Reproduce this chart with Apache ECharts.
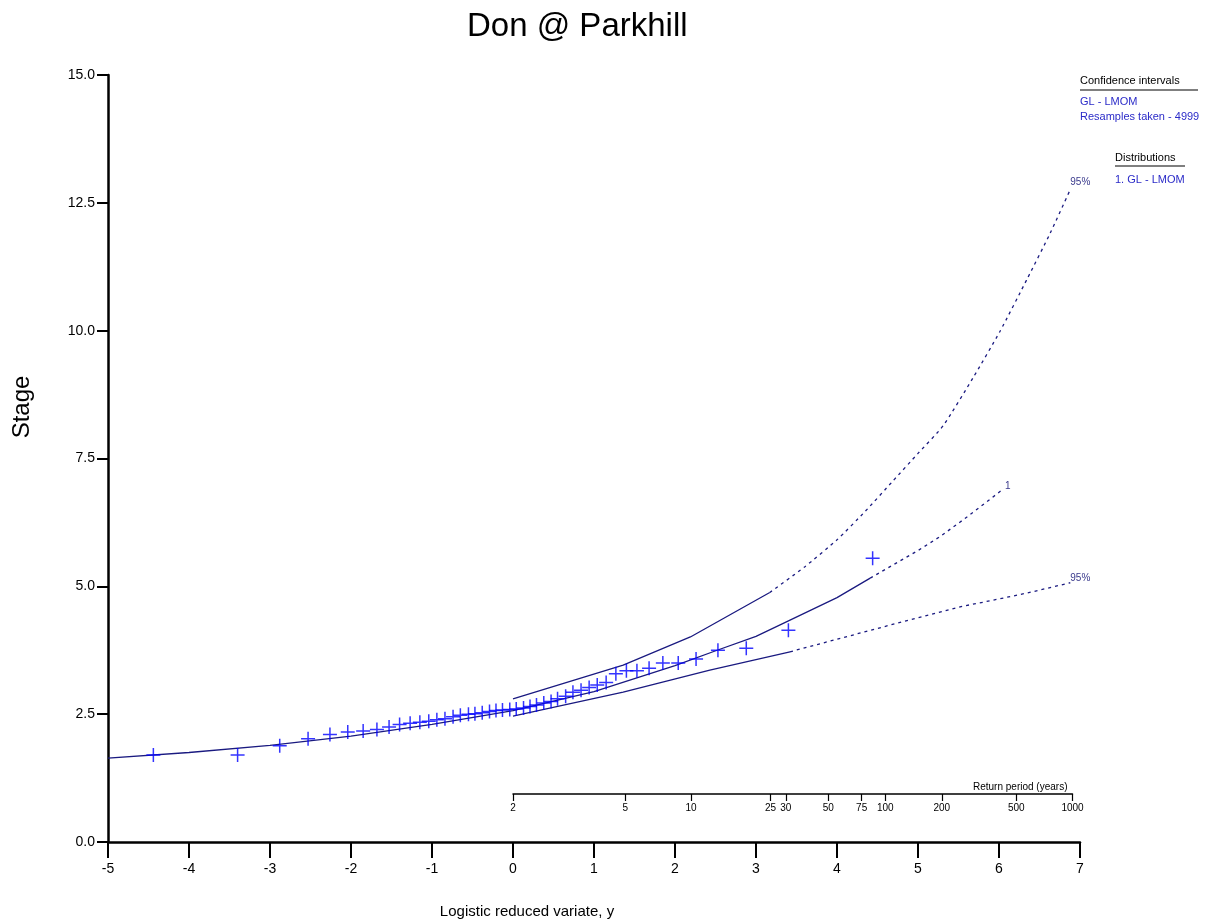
<!DOCTYPE html>
<html>
<head>
<meta charset="utf-8">
<script src="https://cdn.jsdelivr.net/npm/echarts@6/dist/echarts.min.js"></script>
<style>
html,body{margin:0;padding:0;background:#fff;overflow:hidden;}
#chart{width:1227px;height:921px;}
</style>
</head>
<body>
<div id="chart"></div>
<script>
// ---- Data ----
// Observed annual maxima: logistic reduced variate (plotting positions) and stage
const obsX = [-4.44,-3.40,-2.88,-2.53,-2.26,-2.04,-1.85,-1.68,-1.53,-1.40,-1.27,-1.15,-1.04,-0.94,-0.84,-0.74,
  -0.65,-0.55,-0.47,-0.38,-0.29,-0.21,-0.13,-0.04,0.04,0.13,0.21,0.29,0.38,0.47,0.55,0.65,
  0.74,0.84,0.94,1.04,1.15,1.27,1.40,1.53,1.68,1.85,2.04,2.26,2.53,2.88,3.40,4.44];
const obsY = [1.70,1.70,1.88,2.02,2.10,2.15,2.17,2.20,2.25,2.30,2.32,2.34,2.36,2.39,2.41,2.45,
  2.48,2.50,2.51,2.53,2.55,2.57,2.58,2.59,2.60,2.62,2.65,2.68,2.72,2.75,2.80,2.85,
  2.93,2.97,3.02,3.07,3.12,3.29,3.35,3.35,3.40,3.50,3.50,3.58,3.75,3.79,4.14,5.55];

// Fitted GL - LMOM distribution (solid part, then extrapolated dashed part)
const fitSolidX = [-5,-4,-3,-2,-1,0,1,2,2.52,3,3.42,4,4.41];
const fitSolidY = [1.64,1.75,1.89,2.07,2.30,2.57,2.94,3.45,3.75,4.02,4.34,4.78,5.16];
const fitDashX = [4.41,5.0,5.27,5.6,6.05];
const fitDashY = [5.16,5.70,5.97,6.35,6.90];

// Upper 95% confidence bound
const upSolidX = [0,1.36,2.19,3.17];
const upSolidY = [2.80,3.46,4.01,4.88];
const upDashX = [3.17,3.6,4.0,4.35,4.69,5.0,5.31,5.68,6.01,6.35,6.63,6.88];
const upDashY = [4.88,5.38,5.91,6.47,7.06,7.60,8.14,9.08,9.98,11.02,11.90,12.76];

// Lower 95% confidence bound
const loSolidX = [0,1.36,2.43,3.42];
const loSolidY = [2.46,2.93,3.36,3.72];
const loDashX = [3.42,4.65,5.52,5.93,6.35,6.88];
const loDashY = [3.72,4.24,4.60,4.73,4.87,5.07];

// Return period axis tick labels (years)
const returnPeriods = [2,5,10,25,30,50,75,100,200,500,1000];

// Axis ticks
const xMin = -5, xMax = 7, xStep = 1;
const yMin = 0, yMax = 15, yStep = 2.5;

// ---- Chart ----
const FONT = 'Liberation Sans, Arial, sans-serif';
const LINE = '#1a1a80';
const MARK = '#0000ff';
const pair = (xs, ys) => xs.map((x, i) => [x, ys[i]]);

const chart = echarts.init(document.getElementById('chart'), null, {renderer: 'canvas', width: 1227, height: 921});

function lineSeries(name, xs, ys, dashed, label, smooth) {
  const s = {
    name: name, type: 'line', xAxisIndex: 0, yAxisIndex: 0,
    data: pair(xs, ys), showSymbol: false, symbol: 'none', smooth: smooth || false,
    lineStyle: {color: LINE, width: 1.3, type: dashed ? [3, 4] : 'solid'},
    silent: true, z: 3
  };
  if (label) {
    s.endLabel = {show: true, formatter: label.text, color: '#3a3a8c', fontFamily: FONT,
      fontSize: 10, distance: label.distance, offset: label.offset};
  }
  return s;
}

const option = {
  backgroundColor: '#ffffff',
  animation: false,
  textStyle: {fontFamily: FONT},
  title: {
    text: 'Don @ Parkhill', left: 462, top: 5,
    textStyle: {fontFamily: FONT, fontSize: 33, fontWeight: 'normal', color: '#000'}
  },
  grid: [
    {left: 108, top: 75, width: 972, height: 767, containLabel: false},
    {left: 513, width: 559.5, top: 793, height: 1, containLabel: false}
  ],
  xAxis: [
    {
      type: 'value', gridIndex: 0, min: xMin, max: xMax, interval: xStep,
      axisLine: {show: true, onZero: false, lineStyle: {color: '#000', width: 2.5}},
      axisTick: {show: true, inside: false, length: 16, lineStyle: {color: '#000', width: 2}},
      axisLabel: {color: '#000', fontSize: 14, fontFamily: FONT, margin: 20},
      splitLine: {show: false}
    },
    {
      type: 'value', gridIndex: 1, position: 'bottom', min: 0, max: Math.log(999),
      axisLine: {show: true, onZero: false, lineStyle: {color: '#000', width: 1.5}},
      axisTick: {show: true, inside: false, length: 7, lineStyle: {color: '#000', width: 1.2},
        customValues: returnPeriods.map(t => Math.log(t - 1))},
      axisLabel: {color: '#000', fontSize: 10, fontFamily: FONT, margin: 9,
        customValues: returnPeriods.map(t => Math.log(t - 1)),
        formatter: v => String(Math.round(Math.exp(v) + 1))},
      splitLine: {show: false}
    }
  ],
  yAxis: [
    {
      type: 'value', gridIndex: 0, min: yMin, max: yMax, interval: yStep,
      axisLine: {show: true, onZero: false, lineStyle: {color: '#000', width: 2.5}},
      axisTick: {show: true, inside: false, length: 11, lineStyle: {color: '#000', width: 2}},
      axisLabel: {color: '#000', fontSize: 14, fontFamily: FONT, margin: 13,
        formatter: v => v.toFixed(1)},
      splitLine: {show: false}
    },
    {type: 'value', gridIndex: 1, min: 0, max: 1, show: false}
  ],
  series: [
    lineSeries('Fitted', fitSolidX, fitSolidY, false),
    lineSeries('Fitted (extrapolated)', fitDashX, fitDashY, true, {text: '1', distance: 2, offset: [0, -3]}),
    lineSeries('Upper 95%', upSolidX, upSolidY, false),
    lineSeries('Upper 95% (ext)', upDashX, upDashY, true, {text: '95%', distance: 2, offset: [-2, -7]}, 0.2),
    lineSeries('Lower 95%', loSolidX, loSolidY, false),
    lineSeries('Lower 95% (ext)', loDashX, loDashY, true, {text: '95%', distance: 2, offset: [-2, -5]}),
    {
      name: 'Observed', type: 'scatter', xAxisIndex: 0, yAxisIndex: 0,
      data: pair(obsX, obsY),
      symbol: 'path://M0,5 L10,5 M5,0 L5,10', symbolSize: 14,
      itemStyle: {color: 'none', borderColor: MARK, borderWidth: 1.5},
      z: 4, silent: true
    }
  ],
  graphic: [
    {type: 'text', left: 1080, top: 75, style: {text: 'Confidence intervals', fill: '#000', font: '11px ' + FONT}},
    {type: 'line', shape: {x1: 1080, y1: 90, x2: 1198, y2: 90}, style: {stroke: '#000', lineWidth: 1.2}},
    {type: 'text', left: 1080, top: 96, style: {text: 'GL - LMOM', fill: '#2b2bc8', font: '11px ' + FONT}},
    {type: 'text', left: 1080, top: 111, style: {text: 'Resamples taken - 4999', fill: '#2b2bc8', font: '11px ' + FONT}},
    {type: 'text', left: 1115, top: 152, style: {text: 'Distributions', fill: '#000', font: '11px ' + FONT}},
    {type: 'line', shape: {x1: 1115, y1: 166, x2: 1185, y2: 166}, style: {stroke: '#000', lineWidth: 1.2}},
    {type: 'text', left: 1115, top: 174, style: {text: '1. GL - LMOM', fill: '#2b2bc8', font: '11px ' + FONT}},
    {type: 'text', left: 973, top: 782, style: {text: 'Return period (years)', fill: '#000', font: '10px ' + FONT}},
    {type: 'text', x: 22, y: 407, rotation: Math.PI / 2,
      style: {text: 'Stage', fill: '#000', font: '24px ' + FONT, align: 'center', verticalAlign: 'middle'}},
    {type: 'text', x: 527, y: 912,
      style: {text: 'Logistic reduced variate, y', fill: '#000', font: '15px ' + FONT, align: 'center', verticalAlign: 'middle'}}
  ]
};
chart.setOption(option);
</script>
</body>
</html>
